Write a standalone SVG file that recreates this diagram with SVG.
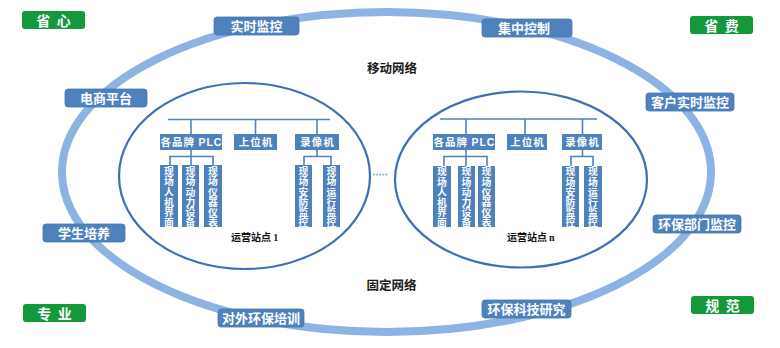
<svg xmlns="http://www.w3.org/2000/svg" width="780" height="348" viewBox="0 0 780 348">
<style>
.ring{fill:none;stroke:#8DB3E2;stroke-width:8}
.inner{fill:none;stroke:#3F6FB5;stroke-width:2.2}
.lbl{fill:#4F81BD;stroke:#4676B4;stroke-width:0.8}
.grn{fill:#13993C}
.lt{font-family:"Noto Sans CJK SC","Liberation Sans",sans-serif;font-weight:bold;font-size:13px;fill:#fff;text-anchor:middle}
.gt{font-family:"Noto Sans CJK SC","Liberation Sans",sans-serif;font-weight:bold;font-size:14px;fill:#fff;text-anchor:middle}
.box{fill:#4F81BD}
.bt{font-family:"Noto Sans CJK SC","Liberation Sans",sans-serif;font-weight:bold;font-size:10.5px;fill:#fff;text-anchor:middle;letter-spacing:1px}
.vt{font-family:"Noto Sans CJK SC","Liberation Sans",sans-serif;font-weight:bold;font-size:9.8px;fill:#fff;writing-mode:vertical-rl;text-orientation:upright;letter-spacing:0.4px}
.ln{fill:none;stroke:#4F81BD;stroke-width:1.6}
.net{font-family:"Noto Sans CJK SC","Liberation Sans",sans-serif;font-weight:bold;font-size:12.5px;fill:#1a1a1a;text-anchor:middle}
.st{font-family:"Noto Sans CJK SC","Liberation Sans",sans-serif;font-weight:bold;font-size:10px;fill:#111}
.lat{font-family:"Liberation Serif",serif;font-weight:bold}
</style>
<rect width="780" height="348" fill="#fff"/>
<ellipse id="outer-ring" class="ring" cx="386.5" cy="172" rx="324.5" ry="160"/>

<g id="station-1">
<ellipse class="inner" cx="244.5" cy="176" rx="125.5" ry="93"/>
<text class="st" x="231" y="240.5">运营站点 <tspan class="lat">1</tspan></text>
</g>
<g id="station-n">
<ellipse class="inner" cx="521" cy="179.5" rx="126" ry="88"/>
<text class="st" x="507" y="240.5">运营站点<tspan class="lat" dx="2">n</tspan></text>
</g>

<g id="connectors">
<path class="ln" d="M168 119.5H330M191 119.5V134M255.5 119.5V134M317 119.5V134"/>
<path class="ln" d="M191 150V156.5M170 165V156.5H213V165M191 156.5V165"/>
<path class="ln" d="M317 150V156.5M304 165V156.5H331V165"/>
<path class="ln" d="M440 119H597M466 119V134M525 119V134M582.5 119V134"/>
<path class="ln" d="M466 150V156.5M444 166V156.5H487V166M466 156.5V166"/>
<path class="ln" d="M582.5 150V156.5M571 166V156.5H593V166"/>
<path d="M373 174.5H389" fill="none" stroke="#4BA3C3" stroke-width="1.6" stroke-dasharray="1.6 1.6"/>
</g>

<g id="s1-plc"><rect class="box" x="160" y="134" width="62" height="16"/><text class="bt" x="191.5" y="146">各品牌 <tspan font-family="Liberation Sans">PLC</tspan></text></g>
<g id="s1-host"><rect class="box" x="234" y="134" width="43" height="16"/><text class="bt" x="256" y="146">上位机</text></g>
<g id="s1-rec"><rect class="box" x="295" y="134" width="44" height="16"/><text class="bt" x="317.5" y="146">录像机</text></g>
<g id="s1-hmi"><rect class="box" x="160" y="165" width="18" height="62"/><text class="vt" x="169" y="166.5">现场人机界面</text></g>
<g id="s1-power"><rect class="box" x="182" y="165" width="17" height="62"/><text class="vt" x="190.5" y="166.5">现场动力设备</text></g>
<g id="s1-meter"><rect class="box" x="204" y="165" width="18" height="62"/><text class="vt" x="213" y="166.5">现场仪器仪表</text></g>
<g id="s1-security"><rect class="box" x="295" y="165" width="17" height="62"/><text class="vt" x="303.5" y="166.5">现场安防监控</text></g>
<g id="s1-run"><rect class="box" x="323" y="165" width="17" height="62"/><text class="vt" x="331.5" y="166.5">现场运行监控</text></g>

<g id="sn-plc"><rect class="box" x="433" y="134" width="62" height="16"/><text class="bt" x="464.5" y="146">各品牌 <tspan font-family="Liberation Sans">PLC</tspan></text></g>
<g id="sn-host"><rect class="box" x="507" y="134" width="40" height="16"/><text class="bt" x="527.5" y="146">上位机</text></g>
<g id="sn-rec"><rect class="box" x="562" y="134" width="40" height="16"/><text class="bt" x="582.5" y="146">录像机</text></g>
<g id="sn-hmi"><rect class="box" x="433" y="166" width="18" height="61"/><text class="vt" x="442" y="166.8">现场人机界面</text></g>
<g id="sn-power"><rect class="box" x="458" y="166" width="17" height="61"/><text class="vt" x="466.5" y="166.8">现场动力设备</text></g>
<g id="sn-meter"><rect class="box" x="478" y="166" width="17" height="61"/><text class="vt" x="486.5" y="166.8">现场仪器仪表</text></g>
<g id="sn-security"><rect class="box" x="562" y="166" width="17" height="61"/><text class="vt" x="570.5" y="166.8">现场安防监控</text></g>
<g id="sn-run"><rect class="box" x="584" y="166" width="18" height="61"/><text class="vt" x="593" y="166.8">现场运行监控</text></g>

<text class="net" x="392" y="73">移动网络</text>
<text class="net" x="391.5" y="290">固定网络</text>

<g id="l-realtime"><rect class="lbl" x="214" y="17" width="85" height="18" rx="3"/><text class="lt" x="256.5" y="31">实时监控</text></g>
<g id="l-central"><rect class="lbl" x="482" y="19" width="90" height="18" rx="3"/><text class="lt" x="524" y="33">集中控制</text></g>
<g id="l-ecom"><rect class="lbl" x="65" y="89" width="82" height="18" rx="3"/><text class="lt" x="106" y="103">电商平台</text></g>
<g id="l-client"><rect class="lbl" x="646" y="93" width="88" height="18" rx="3"/><text class="lt" x="690" y="107">客户实时监控</text></g>
<g id="l-student"><rect class="lbl" x="43" y="224" width="82" height="18" rx="3"/><text class="lt" x="84" y="238">学生培养</text></g>
<g id="l-envdept"><rect class="lbl" x="653" y="215" width="88" height="18" rx="3"/><text class="lt" x="697" y="229">环保部门监控</text></g>
<g id="l-training"><rect class="lbl" x="218" y="309" width="86" height="18" rx="3"/><text class="lt" x="261" y="323">对外环保培训</text></g>
<g id="l-research"><rect class="lbl" x="482" y="300" width="89" height="18" rx="3"/><text class="lt" x="526.5" y="314">环保科技研究</text></g>

<g id="g-xin"><rect class="grn" x="22" y="11" width="63" height="18" rx="3"/><text class="gt" x="53.5" y="25.5" xml:space="preserve">省  心</text></g>
<g id="g-fei"><rect class="grn" x="690" y="16" width="63" height="18" rx="3"/><text class="gt" x="721.5" y="30.5" xml:space="preserve">省  费</text></g>
<g id="g-ye"><rect class="grn" x="23" y="304" width="63" height="18" rx="3"/><text class="gt" x="54.5" y="318.5" xml:space="preserve">专  业</text></g>
<g id="g-fan"><rect class="grn" x="691" y="296" width="63" height="18" rx="3"/><text class="gt" x="722.5" y="310.5" xml:space="preserve">规  范</text></g>
</svg>
